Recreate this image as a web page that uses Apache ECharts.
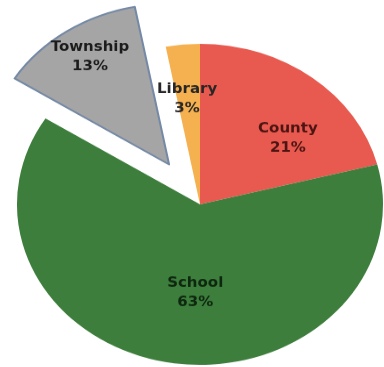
<!DOCTYPE html>
<html>
<head>
<meta charset="utf-8">
<script src="https://cdn.jsdelivr.net/npm/echarts@6/dist/echarts.min.js"></script>
<style>
  html, body { margin: 0; padding: 0; background: #ffffff; overflow: hidden; width: 384px; height: 367px; }
  #chart { width: 384px; height: 419px; transform: scaleY(0.877); transform-origin: 0 0; }
</style>
</head>
<body>
<div id="chart"></div>
<script>
// Data
const categories = ['County', 'School', 'Township', 'Library'];
const values = [21, 63, 13, 3];
const explodedCategory = 'Township';

// Styles
const sliceColors = ['#e8594f', '#3d7e3c', '#a5a5a5', '#f5b04f'];
const labelColors = ['#4a1512', '#0e270f', '#1c1c1c', '#262626'];
const labelDX = [30, 10, -26, -4];
const labelDY = [0, 8, -44, -26];

const chart = echarts.init(document.getElementById('chart'), null, { renderer: 'canvas' });

const data = categories.map((name, i) => {
  const isExploded = name === explodedCategory;
  const style = {
    color: sliceColors[i],
    borderColor: isExploded ? '#7489a6' : sliceColors[i],
    borderWidth: isExploded ? 2 : 0
  };
  return {
    name: name,
    value: values[i],
    selected: isExploded,
    itemStyle: style,
    select: { itemStyle: style, label: { color: labelColors[i] } },
    label: { color: labelColors[i] }
  };
});

chart.setOption({
  animation: false,
  series: [{
    type: 'pie',
    center: [200, 233],
    radius: [0, 183],
    startAngle: 90,
    clockwise: true,
    selectedMode: 'single',
    selectedOffset: 55,
    avoidLabelOverlap: false,
    emphasis: { disabled: true },
    label: {
      show: true,
      position: 'inside',
      formatter: '{b}\n{c}%',
      fontFamily: 'DejaVu Sans',
      fontWeight: 'bold',
      fontSize: 15,
      lineHeight: 22,
      align: 'center',
      overflow: 'none'
    },
    labelLine: { show: false },
    labelLayout: function (p) {
      return { dx: labelDX[p.dataIndex], dy: labelDY[p.dataIndex] };
    },
    data: data
  }]
});
</script>
</body>
</html>
